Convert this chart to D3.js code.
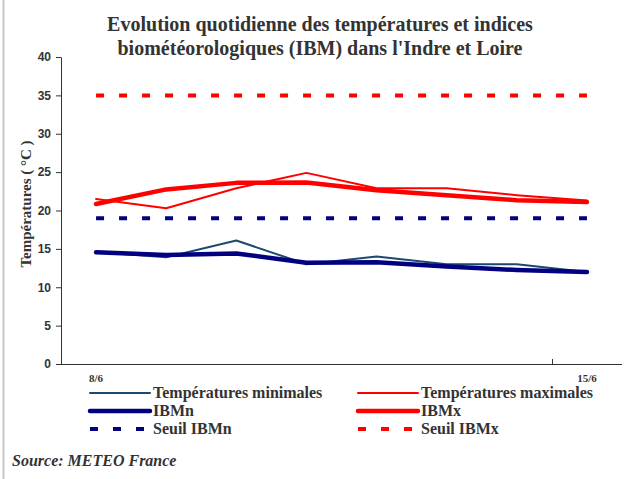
<!DOCTYPE html>
<html>
<head>
<meta charset="utf-8">
<script src="https://cdn.jsdelivr.net/npm/d3@7"></script>
<style>
  body { margin: 0; background: #fff; }
  text { font-family: "Liberation Serif", "Times New Roman", serif; }
</style>
</head>
<body>
<div id="chart"></div>
<script>
// days shown on the category axis
const days = ["8/6", "9/6", "10/6", "11/6", "12/6", "13/6", "14/6", "15/6"];
const tickDays = ["8/6", "15/6"];

// series
const tempMin = [14.6, 13.9, 16.1, 13.0, 14.0, 13.0, 13.0, 12.0];
const tempMax = [21.5, 20.3, 22.9, 24.9, 22.9, 22.9, 22.0, 21.3];
const ibmN = [14.55, 14.2, 14.4, 13.2, 13.25, 12.7, 12.25, 12.0];
const ibmX = [20.85, 22.75, 23.6, 23.65, 22.65, 22.0, 21.35, 21.1];
const seuilN = 19;
const seuilX = 35;
const yTicks = [0, 5, 10, 15, 20, 25, 30, 35, 40];

var svg = d3.select("#chart").append("svg")
    .attr("width", 643)
    .attr("height", 479);

// grey frame line on the left
svg.append("line")
    .attr("x1", 3.5).attr("x2", 3.5)
    .attr("y1", 0).attr("y2", 479)
    .attr("stroke", "#c8c8c8")
    .attr("stroke-width", 2);

//scales
var x = d3.scaleBand()
    .domain(days)
    .range([61, 622]);
var y = d3.scaleLinear()
    .domain([0, 40])
    .range([364, 57]);
var cx = function(d) { return x(d) + x.bandwidth() / 2; };

//y axis
var yAxis = svg.append("g")
    .attr("transform", "translate(61,0)")
    .call(d3.axisLeft(y).tickValues(yTicks).tickSize(5).tickSizeOuter(0).tickPadding(5));
yAxis.select(".domain").attr("stroke", "#333");
yAxis.selectAll(".tick line").attr("stroke", "#333");
yAxis.selectAll("text")
    .style("font-family", "'Liberation Sans', Arial, sans-serif")
    .style("font-size", "12px")
    .style("font-weight", "bold")
    .attr("fill", "#333");

//x axis: ticks every 7 categories at the band edges
svg.append("line")
    .attr("x1", 61).attr("x2", 622)
    .attr("y1", 364.5).attr("y2", 364.5)
    .attr("stroke", "#333");
[days[0], days[7]].forEach(function(d) {
    svg.append("line")
        .attr("x1", Math.round(x(d)) + 0.5).attr("x2", Math.round(x(d)) + 0.5)
        .attr("y1", 364).attr("y2", 359)
        .attr("stroke", "#333");
});
svg.append("g")
    .selectAll("text")
    .data(tickDays)
    .enter()
    .append("text")
    .attr("x", cx)
    .attr("y", 382)
    .attr("text-anchor", "middle")
    .style("font-size", "11px")
    .style("font-weight", "bold")
    .attr("fill", "#333")
    .text(function(d) { return d; });

//title
svg.append("text")
    .attr("x", 320)
    .attr("text-anchor", "middle")
    .style("font-size", "20px")
    .style("font-weight", "bold")
    .attr("fill", "#333")
    .selectAll("tspan")
    .data(["Evolution quotidienne des températures et indices",
           "biométéorologiques (IBM) dans l'Indre et Loire"])
    .enter()
    .append("tspan")
    .attr("x", 320)
    .attr("y", function(d, i) { return 31 + i * 24; })
    .text(function(d) { return d; });

//y label
svg.append("text")
    .attr("transform", "translate(31,204) rotate(-90)")
    .attr("text-anchor", "middle")
    .style("font-size", "15px")
    .style("font-weight", "bold")
    .attr("fill", "#333")
    .text("Températures  ( °C )");

//series definitions
const series = [
    {name: "Températures minimales", values: tempMin, color: "#1a4a70", width: 2, dash: null},
    {name: "Températures maximales", values: tempMax, color: "#ff0000", width: 2, dash: null},
    {name: "IBMn", values: ibmN, color: "#000080", width: 4.5, dash: null},
    {name: "IBMx", values: ibmX, color: "#ff0000", width: 4.5, dash: null},
    {name: "Seuil IBMn", values: days.map(function() { return seuilN; }), color: "#000080", width: 4, dash: "8,15"},
    {name: "Seuil IBMx", values: days.map(function() { return seuilX; }), color: "#ff0000", width: 4, dash: "8,15"}
];

var line = d3.line()
    .x(function(d, i) { return cx(days[i]); })
    .y(function(d) { return y(d); });

//draw thresholds first, then the rest
[4, 5, 0, 1, 3, 2].forEach(function(k) {
    var s = series[k];
    svg.append("path")
        .datum(s.values)
        .attr("d", line)
        .attr("fill", "none")
        .attr("stroke", s.color)
        .attr("stroke-width", s.width)
        .attr("stroke-linejoin", "round")
        .attr("stroke-linecap", s.dash ? "butt" : "round")
        .attr("stroke-dasharray", s.dash);
});

//legend
var legend = svg.append("g");
series.forEach(function(s, i) {
    var lx = (i % 2 === 0) ? 90 : 358;
    var ly = 393 + Math.floor(i / 2) * 18;
    legend.append("line")
        .attr("x1", lx).attr("x2", lx + 60)
        .attr("y1", ly).attr("y2", ly)
        .attr("stroke", s.color)
        .attr("stroke-width", s.dash ? 4 : (s.width > 3 ? 4.5 : 2))
        .attr("stroke-linecap", s.dash ? "butt" : "round")
        .attr("stroke-dasharray", s.dash ? "8,15" : null);
    legend.append("text")
        .attr("x", lx + 63)
        .attr("y", ly + 5)
        .style("font-size", "16px")
        .style("font-weight", "bold")
        .attr("fill", "#333")
        .text(s.name);
});

//source
svg.append("text")
    .attr("x", 12)
    .attr("y", 466)
    .style("font-size", "16px")
    .style("font-weight", "bold")
    .style("font-style", "italic")
    .attr("fill", "#333")
    .text("Source: METEO France");
</script>
</body>
</html>
